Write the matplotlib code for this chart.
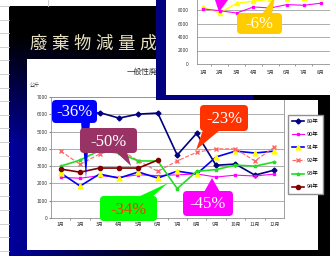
import numpy as np
import matplotlib
matplotlib.use('Agg')
import matplotlib.pyplot as plt
from matplotlib.patches import Rectangle, FancyBboxPatch, Polygon

plt.rcParams['font.family'] = ['Noto Sans CJK JP', 'DejaVu Sans']

# main chart data (kg per month)
months = ['1月', '2月', '3月', '4月', '5月', '6月', '7月', '8月', '9月', '10月', '11月', '12月']
years = ['89年', '90年', '91年', '92年', '93年', '94年']
y89 = [6000, 5900, 6100, 5780, 6010, 6070, 3640, 4900, 3050, 3120, 2480, 2770]
y90 = [2350, 2300, 2450, 2350, 2500, 2450, 2500, 2550, 2370, 2480, 2430, 2540]
y91 = [2600, 1850, 2540, 2310, 2660, 2310, 2710, 2540, 3530, 3870, 3760, 3870]
y92 = [3870, 3100, 3700, 4000, 3300, 2700, 3300, 3800, 4000, 4000, 3300, 4100]
y93 = [3000, 3350, 3900, 3750, 3300, 3300, 1700, 2700, 2800, 3060, 3000, 3240]
y94 = [2830, 2650, 2890, 2890, 2890, 3350]

# small chart in the window behind
w_months = ['1月', '2月', '3月', '4月', '5月', '6月', '7月', '8月']
w_pink = [8150, 7900, 7550, 8450, 8300, 8800, 8700, 9000]
w_yellow = [8400, 7560, 9000, 9300, 9600, 9700, 9800, 9900]

W, H = 330, 256
fig = plt.figure(figsize=(3.3, 2.56), dpi=100)


def rect(x0, y0, x1, y1):
    return [x0 / W, 1 - y1 / H, (x1 - x0) / W, (y1 - y0) / H]


def px_axes(z):
    a = fig.add_axes([0, 0, 1, 1], zorder=z)
    a.set_xlim(0, W)
    a.set_ylim(H, 0)
    a.axis('off')
    a.patch.set_alpha(0)
    return a


def callout(a, box, tail, color, text, tcolor='white'):
    x0, y0, x1, y1 = box
    a.add_patch(Polygon(tail, closed=True, fc=color, ec='none'))
    a.add_patch(FancyBboxPatch((x0, y0), x1 - x0, y1 - y0,
                               boxstyle='round,pad=0,rounding_size=4', fc=color, ec='none'))
    a.text((x0 + x1) / 2, (y0 + y1) / 2 + 1, text, color=tcolor, fontsize=12,
           family='Liberation Serif', ha='center', va='center')


# background: spreadsheet + slide
bg = px_axes(0)
for yy in np.arange(6, H, 13.6):
    bg.plot([0, 9], [yy, yy], color='#c8c8c8', lw=0.6)
bg.plot([48, 48], [0, 6], color='#c8c8c8', lw=0.6)

gx, gy = np.meshgrid(np.arange(9, W), np.arange(6, H))
blue = 0.62 * np.clip((gy - 35) / 110, 0, 1) * np.clip(1 - (gx - 9) / 160, 0, 1)
img = np.dstack([np.zeros_like(blue), np.zeros_like(blue), blue])
bg.imshow(img, extent=(9, W, H, 6), aspect='auto', interpolation='bilinear')
bg.set_xlim(0, W)
bg.set_ylim(H, 0)

for i, ch in enumerate('廢棄物減量成果'):
    bg.text(38 + 22 * i, 44, ch, color='#e6e0c0', fontsize=12.5, ha='center', va='center')

bg.add_patch(Rectangle((27, 59), 291, 191, fc='white', ec='none'))
bg.text(127, 72, '一般性廃棄物', fontsize=5.5, color='#333333', ha='left', va='center')
bg.text(30, 85, '公斤', fontsize=3.5, color='#333333', ha='left', va='center')

# main line chart
ax = fig.add_axes(rect(51, 97, 284, 218), zorder=1)
x = np.arange(1, 13)
ax.plot(x, y89, color='#000080', marker='D', ms=2.5, lw=1.2, label=years[0])
ax.plot(x, y90, color='#ff00ff', marker='s', ms=2, lw=0.8, label=years[1])
ax.plot(x, y91, color='#0000ff', marker='^', ms=3.5, mfc='#ffff00', mec='#ffff00', lw=1.2, label=years[2])
ax.plot(x, y92, color='#ff6666', marker='x', ms=2.5, lw=0.8, ls='--', label=years[3])
ax.plot(x, y93, color='#22dd22', marker='*', ms=2.5, lw=1.2, label=years[4])
ax.plot(x[:len(y94)], y94, color='#800000', marker='o', ms=3, lw=1.2, label=years[5])
ax.set_xlim(0.5, 12.5)
ax.set_ylim(0, 7000)
ax.set_yticks(np.arange(0, 7001, 1000))
ax.set_xticks(x)
ax.set_xticklabels(months)
ax.set_xticks(np.arange(1.5, 12.5, 1), minor=True)
ax.grid(axis='y', color='#a0a0a0', lw=0.6)
ax.tick_params(axis='x', which='major', length=0, pad=3, labelsize=3.5, labelcolor='#333333')
ax.tick_params(axis='x', which='minor', length=1.5, color='#888888')
ax.tick_params(axis='y', length=1.5, pad=1, labelsize=3.5, labelcolor='#333333', color='#888888')
for s in ax.spines.values():
    s.set_color('#909090')
    s.set_linewidth(0.6)
ax.legend(loc='upper left', bbox_to_anchor=(285 / W, 1 - 112 / H), bbox_transform=fig.transFigure,
          fontsize=4, handlelength=2.2, labelspacing=1.45, borderpad=0.8, handletextpad=0.4,
          fancybox=False, edgecolor='#909090', framealpha=1)

# callouts on the main chart
co = px_axes(2)
callout(co, (52, 100, 97, 123), [(81, 122), (90, 122), (86, 178)], '#0000ff', '-36%')
callout(co, (80, 128, 137, 153), [(116, 152), (127, 152), (131, 166)], '#993366', '-50%')
callout(co, (100, 196, 157, 221), [(138, 197), (152, 197), (168, 183)], '#00ff00', '-34%', '#ff3300')
callout(co, (183, 191, 233, 216), [(204, 192), (220, 192), (212, 178)], '#ff00ff', '-45%')
callout(co, (200, 105, 248, 131), [(203, 130), (220, 130), (196, 150)], '#ff3300', '-23%')

# window with the other chart
win = px_axes(3)
win.add_patch(Rectangle((156, 0), 10, 100, fc='#000080', ec='none'))
win.add_patch(Rectangle((166, 0), 164, 95, fc='white', ec='none'))
win.add_patch(Rectangle((156, 95), 97, 5, fc='#000080', ec='none'))
win.add_patch(Rectangle((253, 95), 77, 5, fc='#000000', ec='none'))

wax = fig.add_axes(rect(197, 0, 330, 64), zorder=4)
wx = np.arange(1, len(w_months) + 1)
wax.plot(wx, w_yellow, color='#ffff00', marker='^', ms=3, lw=1)
wax.plot(wx, w_pink, color='#ff00ff', marker='s', ms=2, lw=0.8)
wax.set_xlim(1 - 6 / 16.8, 1 + 127 / 16.8)
wax.set_ylim(0, 64 / 13.5 * 2000)
wax.set_yticks(np.arange(0, 8001, 2000))
wax.set_xticks(wx)
wax.set_xticklabels(w_months)
wax.set_xticks(np.arange(1.5, 8.5, 1), minor=True)
wax.grid(axis='y', color='#a0a0a0', lw=0.6)
wax.tick_params(axis='x', which='major', length=0, pad=4, labelsize=3.5, labelcolor='#333333')
wax.tick_params(axis='x', which='minor', length=1.5, color='#888888')
wax.tick_params(axis='y', length=0, pad=6, labelsize=3.5, labelcolor='#333333')
for k in ['top', 'right']:
    wax.spines[k].set_visible(False)
for k in ['left', 'bottom']:
    wax.spines[k].set_color('#909090')
    wax.spines[k].set_linewidth(0.6)

co2 = px_axes(5)
co2.add_patch(Polygon([(215, 0), (228, 0), (219, 12)], closed=True, fc='#ff00ff', ec='none'))
callout(co2, (237, 13, 282, 34), [(262, 14), (272, 14), (275, -4)], '#ffcc00', '-6%')

fig.savefig('out.png', dpi=100)
